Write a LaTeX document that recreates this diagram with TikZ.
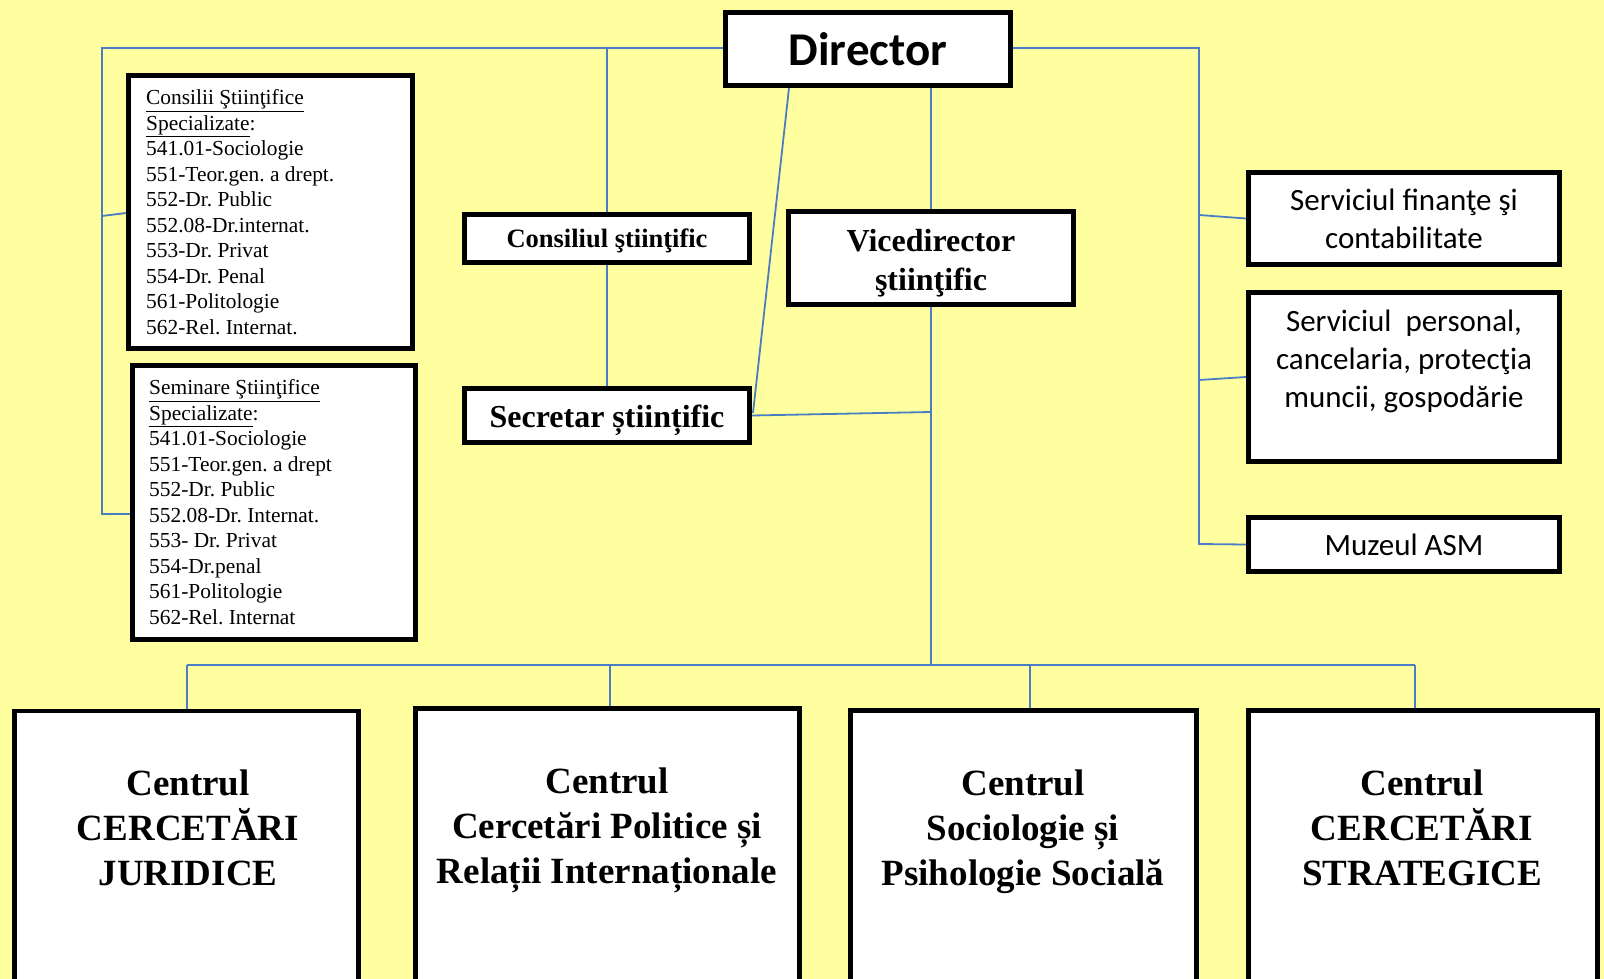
\documentclass[tikz,border=0pt]{standalone}
\usepackage{fontspec}
\setmainfont{Liberation Serif}
\newfontfamily\calib{Carlito}
\frenchspacing
\definecolor{bgyellow}{RGB}{255,255,160}
\definecolor{lineblue}{RGB}{74,126,196}
\pgfdeclarelayer{bg}
\pgfsetlayers{bg,main}
\tikzset{
  bx/.style={draw=black, line width=4.7pt, fill=white, inner sep=0pt, align=center},
  ln/.style={draw=lineblue, line width=1.8pt},
  centre/.style={font=\bfseries\fontsize{37}{45}\selectfont, align=center, inner sep=0pt, anchor=north},
  tnr/.style={font=\bfseries\fontsize{32}{39}\selectfont, align=center, inner sep=0pt},
  cal/.style={font=\calib\fontsize{31}{38}\selectfont},
  list/.style={anchor=north west, inner sep=0pt, align=left, font=\fontsize{21.4}{25.5}\selectfont},
}
\begin{document}
\begin{tikzpicture}[x=1pt,y=-1pt]
\useasboundingbox (0,0) rectangle (1604,979);
\begin{pgfonlayer}{bg}
\fill[bgyellow] (0,0) rectangle (1604,979);
\end{pgfonlayer}

% boxes
\node[bx, minimum width=285.3, minimum height=73.3,
      font=\calib\bfseries\fontsize{47}{50}\selectfont] (dir) at (868,49) {Director};
\node[bx, minimum width=284.3, minimum height=273.3] (csbox) at (270.5,212) {};
\node[list] (cstext) at (146,89.5) {\underline{Consilii Ştiinţifice}\\\underline{Specializate}:\\541.01-Sociologie\\551-Teor.gen. a drept.\\552-Dr. Public\\552.08-Dr.internat.\\553-Dr. Privat\\554-Dr. Penal\\561-Politologie\\562-Rel. Internat.};
\node[bx, minimum width=283.3, minimum height=274.3] (ssbox) at (274,502.5) {};
\node[list] (sstext) at (149,379.5) {\underline{Seminare Ştiinţifice}\\\underline{Specializate}:\\541.01-Sociologie\\551-Teor.gen. a drept\\552-Dr. Public\\552.08-Dr. Internat.\\553- Dr. Privat\\554-Dr.penal\\561-Politologie\\562-Rel. Internat};
\node[bx, minimum width=285.3, minimum height=48.3] (cons) at (607,238.5) {};
\node[font=\bfseries\fontsize{26.5}{30}\selectfont, inner sep=0pt] (const) at ([yshift=-2pt]cons.center) {Consiliul ştiinţific};
\node[bx, minimum width=285.3, minimum height=54.3] (secr) at (607,415.5) {};
\node[tnr] (secrt) at ([yshift=-5pt]secr.center) {Secretar științific};
\node[bx, minimum width=285.3, minimum height=93.3] (vice) at (931,258) {};
\node[tnr] (vicet) at ([yshift=-5pt]vice.center) {Vicedirector\\ştiinţific};
\node[bx, minimum width=311.3, minimum height=92.3, cal] (fin) at (1404,218.5) {Serviciul finanţe şi\\contabilitate};
\node[bx, minimum width=311.3, minimum height=169.3] (pers) at (1404,377) {};
\node[cal, align=center, inner sep=0pt, anchor=north] (perstext) at (1404,309.5) {Serviciul\ \ personal,\\cancelaria, protecţia\\muncii, gospodărie};
\node[bx, minimum width=311.3, minimum height=54.3, cal] (muz) at (1404,544.5) {Muzeul ASM};

\node[bx, minimum width=344.3, minimum height=288] (c1) at (186.5,855) {};
\node[bx, minimum width=384.3, minimum height=290] (c2) at (607.5,853.5) {};
\node[bx, minimum width=346.3, minimum height=288] (c3) at (1023.5,854.5) {};
\node[bx, minimum width=349.3, minimum height=288] (c4) at (1423,854.5) {};
\node[centre] (c1t) at (188,770) {Centrul\\CERCETĂRI\\JURIDICE};
\node[centre] (c2t) at (607,768) {Centrul\\Cercetări Politice și\\Relații Internaționale};
\node[centre] (c3t) at (1023,770) {Centrul\\Sociologie și\\Psihologie Socială};
\node[centre] (c4t) at (1422,770) {Centrul\\CERCETĂRI\\STRATEGICE};

% junction coordinates
\coordinate (tl) at (102,48);
\coordinate (tc) at (607,48);
\coordinate (tr) at (1199,48);
\coordinate (lc) at (102,216);
\coordinate (lb) at (102,514);
\coordinate (rf) at (1199,215);
\coordinate (rp) at (1199,380);
\coordinate (rm) at (1199,544);
\coordinate (dsl) at (789,88);
\coordinate (dsv) at (931,88);
\coordinate (vj) at (931,412);
\coordinate (bar) at (931,665);
\coordinate (b1) at (187,665);
\coordinate (b2) at (610,665);
\coordinate (b3) at (1030,665);
\coordinate (b4) at (1415,665);

\begin{pgfonlayer}{bg}
\draw[ln] (dir.west |- tl) -- (tl) -- (lb) -- (ssbox.west |- lb);
\draw[ln] (lc) -- (126,213);
\draw[ln] (tc) -- (cons.north);
\draw[ln] (cons.south) -- (secr.north);
\draw[ln] (dir.east |- tr) -- (tr) -- (rm) -- (muz.west);
\draw[ln] (rf) -- (fin.west);
\draw[ln] (rp) -- (pers.west);
\draw[ln] (dsl) -- (753,413);
\draw[ln] (secr.east) -- (vj);
\draw[ln] (dsv) -- (vice.north);
\draw[ln] (vice.south) -- (bar);
\draw[ln] (b1) -- (b4);
\draw[ln] (b1) -- (b1 |- c1.north);
\draw[ln] (b2) -- (b2 |- c2.north);
\draw[ln] (b3) -- (b3 |- c3.north);
\draw[ln] (b4) -- (b4 |- c4.north);
\end{pgfonlayer}
\end{tikzpicture}
\end{document}
